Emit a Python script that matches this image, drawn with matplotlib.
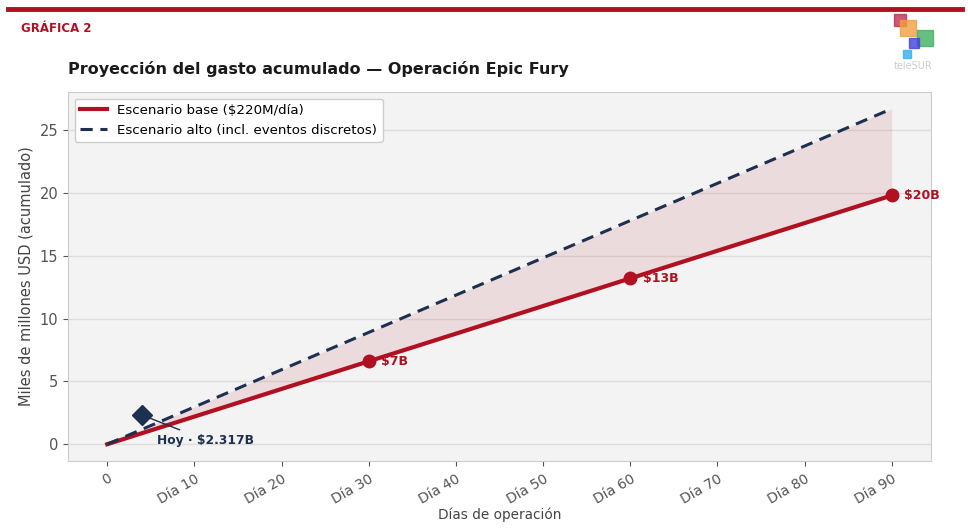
import matplotlib.pyplot as plt
from matplotlib.patches import Rectangle

days = [0, 30, 60, 90]
base = [0, 6.6, 13.2, 19.8]
high = [0, 8.9, 17.8, 26.7]
marker_days = [30, 60, 90]
marker_vals = [6.6, 13.2, 19.8]
marker_labels = ['$7B', '$13B', '$20B']
today_day = 4
today_val = 2.317
xticks = [0, 10, 20, 30, 40, 50, 60, 70, 80, 90]
xticklabels = ['0'] + ['Día %d' % d for d in xticks[1:]]

red = '#b01020'
navy = '#1e3050'

fig = plt.figure(figsize=(9.68, 5.29), dpi=100)
ax = fig.add_axes([68 / 968, 1 - 461 / 529, (931 - 68) / 968, (461 - 92) / 529])
ax.set_facecolor('#f3f3f3')

ax.fill_between(days, base, high, color=red, alpha=0.1, linewidth=0)
ax.plot(days, base, color=red, linewidth=3, label='Escenario base ($220M/día)')
ax.plot(days, high, color=navy, linewidth=2.2, linestyle=(0, (4, 2.5)),
        label='Escenario alto (incl. eventos discretos)')
ax.plot(marker_days, marker_vals, 'o', color=red, markersize=9)
for d, v, lab in zip(marker_days, marker_vals, marker_labels):
    ax.annotate(lab.replace('$', r'\$'), (d, v), xytext=(9, 0), textcoords='offset points',
                va='center', ha='left', color=red, fontsize=9, fontweight='bold')

ax.plot([today_day], [today_val], 'D', color=navy, markersize=10)
ax.annotate(r'Hoy · \$2.317B', (today_day, today_val), xytext=(11, -18), textcoords='offset points',
            color=navy, fontsize=8.8, fontweight='bold', va='center', ha='left',
            arrowprops=dict(arrowstyle='-', color=navy, lw=1, shrinkA=2, shrinkB=4))

ax.set_xticks(xticks)
ax.set_xticklabels(xticklabels, rotation=30, ha='right', rotation_mode='anchor')
ax.tick_params(colors='#555555', labelsize=10.5)
ax.tick_params(axis='x', labelsize=10, pad=4)
ax.yaxis.grid(True, color='#dddddd', linewidth=1)
ax.set_axisbelow(True)
for s in ax.spines.values():
    s.set_color('#cccccc')
ax.set_xlabel('Días de operación', fontsize=9.8, color='#444444', labelpad=1)
ax.set_ylabel('Miles de millones USD (acumulado)', fontsize=10.5, color='#444444')
ax.legend(loc='upper left', fontsize=9.6, framealpha=1, edgecolor='#cccccc')

fig.add_artist(plt.Line2D([8 / 968, 962 / 968], [1 - 9 / 529, 1 - 9 / 529], color=red, linewidth=3.5))
fig.text(21 / 968, 1 - 28 / 529, 'GRÁFICA 2', color=red, fontsize=8.5, fontweight='bold', va='center')
fig.text(68 / 968, 1 - 69 / 529, 'Proyección del gasto acumulado — Operación Epic Fury',
         fontsize=11.5, fontweight='bold', color='#1a1a1a', va='center')

# small logo
for x, y, s, c in [(894, 14, 12, '#c0304a'), (900, 20, 16, '#f0a040'), (917, 30, 16, '#40b060'),
                   (909, 38, 10, '#4040e0'), (903, 50, 8, '#30b0f0')]:
    fig.add_artist(Rectangle((x / 968, 1 - (y + s) / 529), s / 968, s / 529,
                             color=c, alpha=0.8, transform=fig.transFigure))
fig.text(913 / 968, 1 - 66 / 529, 'teleSUR', fontsize=7, color='#cccccc', ha='center', va='center')

fig.savefig('out.png', dpi=100)
